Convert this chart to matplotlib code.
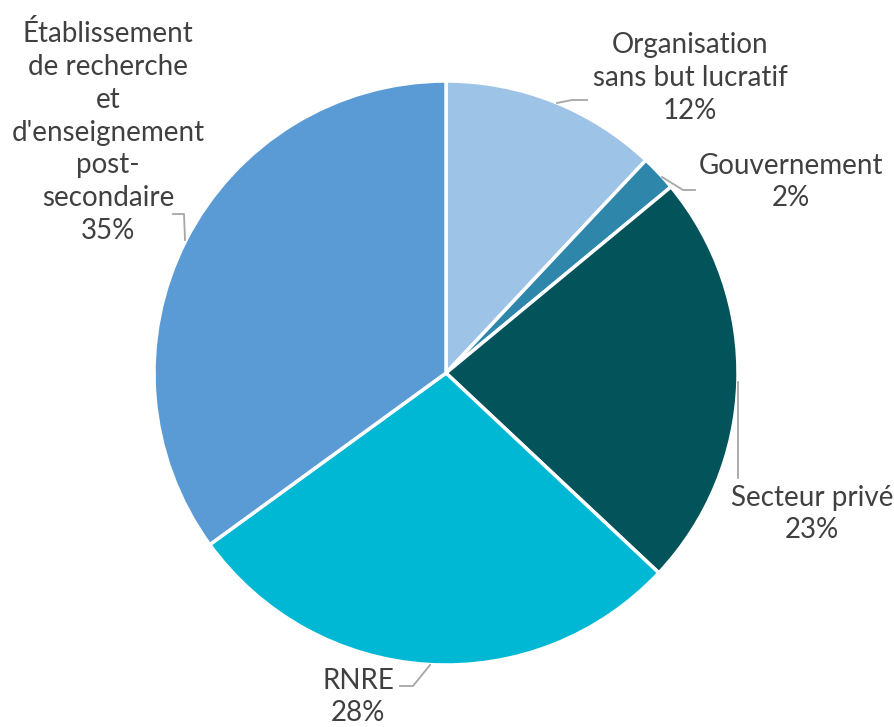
import matplotlib
matplotlib.use("Agg")
import matplotlib.pyplot as plt

plt.rcParams['font.family'] = ['Lato', 'DejaVu Sans']

categories = ["Organisation\nsans but lucratif", "Gouvernement", "Secteur privé",
              "RNRE", "Établissement\nde recherche\net\nd'enseignement\npost-\nsecondaire"]
values = [12, 2, 23, 28, 35]
colors = ['#9DC3E6', '#2E86AB', '#03535A', '#00B8D4', '#5B9BD5']

W, H = 895, 727
fig = plt.figure(figsize=(W / 100, H / 100), dpi=100)
ax = fig.add_axes([0, 0, 1, 1])

def fy(y):
    # image y (top-down) -> axes y
    return H - y

cx, cy, r = 446, 373, 292
ax.pie(values, colors=colors, startangle=90, counterclock=False,
       center=(cx, fy(cy)), radius=r,
       wedgeprops=dict(edgecolor='white', linewidth=2.5), frame=True)
ax.set_xlim(0, W)
ax.set_ylim(0, H)
ax.set_aspect('equal')
ax.axis('off')

# label centers in image pixels
label_pos = [(690, 78), (791, 182), (812, 514), (358, 697), (108, 132)]
for name, v, (x, y) in zip(categories, values, label_pos):
    ax.text(x, fy(y), f"{name}\n{v}%", ha='center', va='center',
            fontsize=20, color='#404040', linespacing=1.32)

# leader lines
leaders = [
    [(557, 103), (572, 100), (587, 100)],
    [(662, 177), (683, 190), (695, 190)],
    [(738, 382), (738, 478)],
    [(430, 665), (413, 686), (400, 686)],
    [(185, 240), (184, 214), (173, 214)],
]
for pts in leaders:
    xs = [p[0] for p in pts]
    ys = [fy(p[1]) for p in pts]
    ax.plot(xs, ys, color='#A6A6A6', linewidth=1.3)

fig.savefig("out.png", dpi=100)
